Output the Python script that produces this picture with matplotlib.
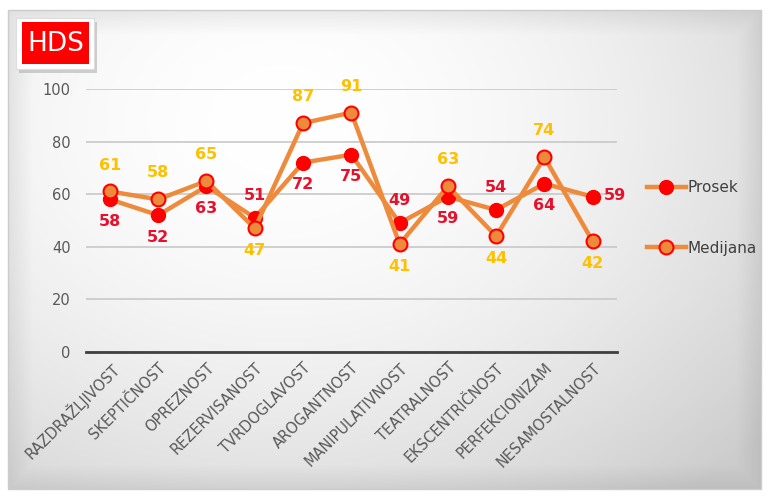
import matplotlib.pyplot as plt
import numpy as np
from matplotlib.patches import Rectangle

categories = ['RAZDRAŽLJIVOST', 'SKEPTIČNOST', 'OPREZNOST', 'REZERVISANOST',
              'TVRDOGLAVOST', 'AROGANTNOST', 'MANIPULATIVNOST', 'TEATRALNOST',
              'EKSCENTRIČNOST', 'PERFEKCIONIZAM', 'NESAMOSTALNOST']
prosek = [58, 52, 63, 51, 72, 75, 49, 59, 54, 64, 59]
medijana = [61, 58, 65, 47, 87, 91, 41, 63, 44, 74, 42]

# label placement: 'a' above, 'b' below, 'r' right
prosek_pos = ['b', 'b', 'b', 'a', 'b', 'b', 'a', 'b', 'a', 'b', 'r']
medijana_pos = ['a', 'a', 'a', 'b', 'a', 'a', 'b', 'a', 'b', 'a', 'b']

line_col = '#EE8A3C'
red = '#FF0000'
gold = '#FFC000'

fig = plt.figure(figsize=(7.73, 4.97), dpi=100)

# background panel with soft radial shading
bg = fig.add_axes([0, 0, 1, 1], zorder=-10)
h, w = 497, 773
yy, xx = np.mgrid[0:h, 0:w]
d = np.sqrt(((xx - 280) / 560.0) ** 2 + ((yy - 120) / 430.0) ** 2)
shade = np.clip(1.0 - 0.16 * d ** 1.8, 0.80, 1.0)
# bevel edges
edge = np.minimum.reduce([xx - 8, w - 12 - xx, yy - 10, h - 8 - yy]).astype(float)
bevel = np.clip(edge / 25.0, 0, 1)
shade = shade * (0.93 + 0.07 * bevel)
img = np.dstack([shade, shade, shade])
img[(xx < 8) | (xx > w - 12) | (yy < 10) | (yy > h - 8)] = 1.0
bg.imshow(img, extent=[0, w, h, 0], aspect='auto', interpolation='bilinear')
bg.add_patch(Rectangle((8, 10), w - 20, h - 18, fill=False, ec='#cccccc', lw=1))
bg.set_xlim(0, w)
bg.set_ylim(h, 0)
bg.axis('off')

# title badge
bg.add_patch(Rectangle((19, 22), 78, 51, fc='#9a9a9a', ec='none', alpha=0.45))
bg.add_patch(Rectangle((16, 18), 78, 51, fc='white', ec='#dddddd', lw=0.8))
bg.add_patch(Rectangle((22, 22), 67, 42, fc='#FF0000', ec='none'))
bg.text(55.5, 44, 'HDS', color='white', fontsize=19, ha='center', va='center',
        family='DejaVu Sans')

ax = fig.add_axes([0.111, 0.292, 0.687, 0.529])
ax.patch.set_alpha(0)
x = np.arange(len(categories))

ax.plot(x, prosek, color=line_col, lw=3.2, marker='o', ms=10,
        mfc=red, mec=red, label='Prosek', zorder=3)
ax.plot(x, medijana, color=line_col, lw=3.2, marker='o', ms=10,
        mfc=line_col, mec=red, mew=1.5, label='Medijana', zorder=4)

for xi, v, p in zip(x, prosek, prosek_pos):
    if p == 'r':
        ax.annotate(str(v), (xi, v), xytext=(8, 1), textcoords='offset points',
                    ha='left', va='center', color='#E8112D', fontsize=11.5, fontweight='bold')
    else:
        off = 16 if p == 'a' else -16
        ax.annotate(str(v), (xi, v), xytext=(0, off), textcoords='offset points',
                    ha='center', va='center', color='#E8112D', fontsize=11.5, fontweight='bold')
for xi, v, p in zip(x, medijana, medijana_pos):
    off = 19 if p == 'a' else -16
    ax.annotate(str(v), (xi, v), xytext=(0, off), textcoords='offset points',
                ha='center', va='center', color=gold, fontsize=11.5, fontweight='bold')

ax.set_xlim(-0.5, len(categories) - 0.5)
ax.set_ylim(0, 100)
ax.set_yticks(range(0, 101, 20))
ax.yaxis.grid(True, color='#c8c8c8', lw=1.2)
ax.set_axisbelow(True)
for s in ['top', 'right', 'left']:
    ax.spines[s].set_visible(False)
ax.spines['bottom'].set_color('#404040')
ax.spines['bottom'].set_linewidth(2)
ax.tick_params(axis='both', length=0, colors='#595959', labelsize=10.5)
ax.tick_params(axis='y', pad=11)
ax.tick_params(axis='x', pad=6)
ax.set_xticks(x)
ax.set_xticklabels(categories, rotation=45, ha='right', rotation_mode='anchor',
                   color='#595959', fontsize=10.5)

leg = ax.legend(loc='center left', bbox_to_anchor=(1.03, 0.51), frameon=False,
                fontsize=11, labelspacing=3.0, handlelength=2.6, handletextpad=0.1)
for t in leg.get_texts():
    t.set_color('#404040')

fig.savefig('out.png', dpi=100)
